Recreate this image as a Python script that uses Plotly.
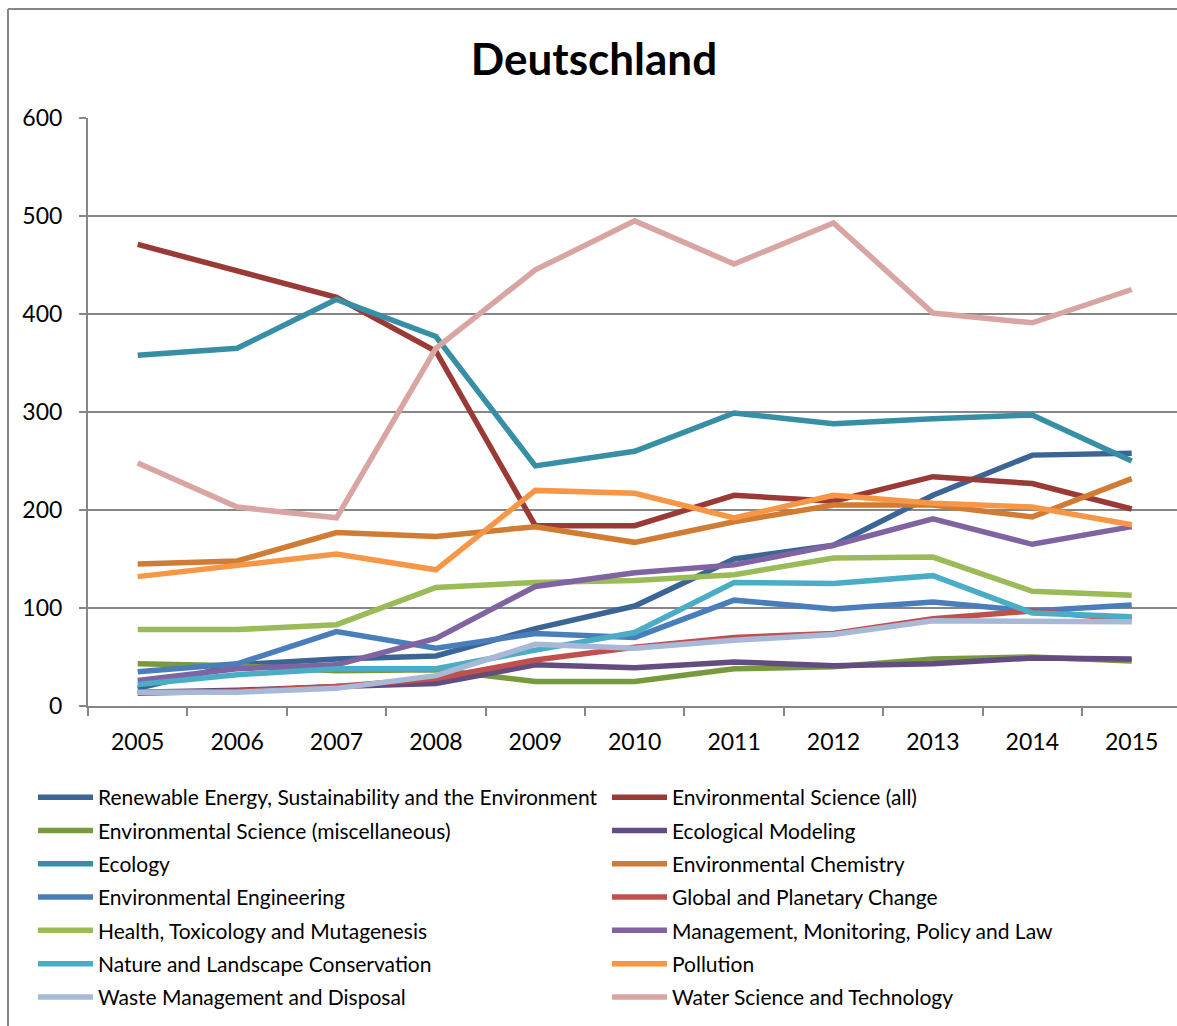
import plotly.graph_objects as go

years = ["2005", "2006", "2007", "2008", "2009", "2010", "2011", "2012", "2013", "2014", "2015"]

names = [
    "Renewable Energy, Sustainability and the Environment",
    "Environmental Science (all)",
    "Environmental Science (miscellaneous)",
    "Ecological Modeling",
    "Ecology",
    "Environmental Chemistry",
    "Environmental Engineering",
    "Global and Planetary Change",
    "Health, Toxicology and Mutagenesis",
    "Management, Monitoring, Policy and Law",
    "Nature and Landscape Conservation",
    "Pollution",
    "Waste Management and Disposal",
    "Water Science and Technology",
]

renewable = [18, 42, 48, 51, 79, 102, 150, 164, 215, 256, 258]
env_all = [471, 444, 417, 362, 184, 184, 215, 209, 234, 227, 201]
env_misc = [43, 41, 36, 37, 25, 25, 38, 40, 48, 50, 46]
eco_model = [14, 16, 20, 23, 42, 39, 45, 41, 43, 49, 48]
ecology = [358, 365, 415, 377, 245, 260, 299, 288, 293, 297, 250]
env_chem = [145, 148, 177, 173, 183, 167, 188, 205, 205, 193, 232]
env_eng = [35, 43, 76, 59, 74, 70, 108, 99, 106, 97, 103]
global_change = [13, 15, 20, 28, 47, 60, 70, 74, 89, 97, 88]
health = [78, 78, 83, 121, 126, 128, 134, 151, 152, 117, 113]
management = [26, 38, 42, 69, 122, 136, 144, 164, 191, 165, 183]
nature = [22, 32, 38, 38, 57, 75, 126, 125, 133, 95, 91]
pollution = [132, 144, 155, 139, 220, 217, 192, 215, 207, 203, 185]
waste = [14, 14, 18, 31, 63, 59, 67, 73, 87, 86, 86]
water = [248, 203, 192, 365, 445, 495, 451, 493, 401, 391, 425]

series = [renewable, env_all, env_misc, eco_model, ecology, env_chem, env_eng,
          global_change, health, management, nature, pollution, waste, water]

colors = ["#3B6595", "#9A3A37", "#789A3F", "#634C7F", "#378FA5", "#D07C34",
          "#4A7EBB", "#C0504D", "#9BBB59", "#8064A2", "#4BACC6", "#F79646",
          "#A7B9D6", "#D9A5A3"]

fig = go.Figure()
for i, (n, s, c) in enumerate(zip(names, series, colors)):
    fig.add_trace(go.Scatter(
        x=years, y=s, name=n, mode="lines",
        line=dict(color=c, width=5.5),
        legend="legend" if i % 2 == 0 else "legend2",
        legendgroup=n,
    ))

W, H = 1177, 1026
FONT = "Lato"
legend_common = dict(
    orientation="v", xref="container", yref="container",
    yanchor="top", xanchor="left",
    font=dict(family=FONT, size=21, color="#000000"),
    tracegroupgap=3, itemwidth=55, bgcolor="rgba(0,0,0,0)",
)

frame_x = (8 - 88) / 1089
frame_y = (706 - 9) / 588

fig.update_layout(
    width=W, height=H,
    paper_bgcolor="white", plot_bgcolor="white",
    margin=dict(l=88, r=0, t=118, b=320, autoexpand=False),
    title=dict(text="<b>Deutschland</b>", x=594 / W, xanchor="center",
               y=1 - 60 / H, yanchor="middle",
               font=dict(family=FONT, size=44, color="#000000")),
    showlegend=True,
    legend=dict(x=33 / W, y=1 - 777 / H, **legend_common),
    legend2=dict(x=607 / W, y=1 - 777 / H, **legend_common),
    xaxis=dict(
        type="category", range=[-0.5, -0.5 + 1089 / 99.4],
        tickson="boundaries", ticks="outside", ticklen=8, tickwidth=2,
        tickcolor="#868686", showline=True, linecolor="#868686", linewidth=2,
        showgrid=False, tickfont=dict(family=FONT, size=23, color="#000000"),
        ticklabelstandoff=14, fixedrange=True,
    ),
    yaxis=dict(
        range=[0, 600], tickvals=[0, 100, 200, 300, 400, 500, 600],
        ticks="outside", ticklen=7, tickwidth=2, tickcolor="#868686",
        showline=True, linecolor="#868686", linewidth=2,
        showgrid=True, gridcolor="#868686", gridwidth=2, zeroline=False,
        tickfont=dict(family=FONT, size=23, color="#000000"),
        ticklabelstandoff=12,
    ),
    shapes=[
        dict(type="line", xref="paper", yref="paper",
             x0=frame_x, x1=frame_x, y0=-0.6, y1=frame_y,
             line=dict(color="#868686", width=2), layer="below"),
        dict(type="line", xref="paper", yref="paper",
             x0=frame_x, x1=1.1, y0=frame_y, y1=frame_y,
             line=dict(color="#868686", width=2), layer="below"),
    ],
)

fig.write_html("out.html", config={"displayModeBar": False},
               post_script="document.body.style.margin='0';document.body.style.overflow='hidden';")
